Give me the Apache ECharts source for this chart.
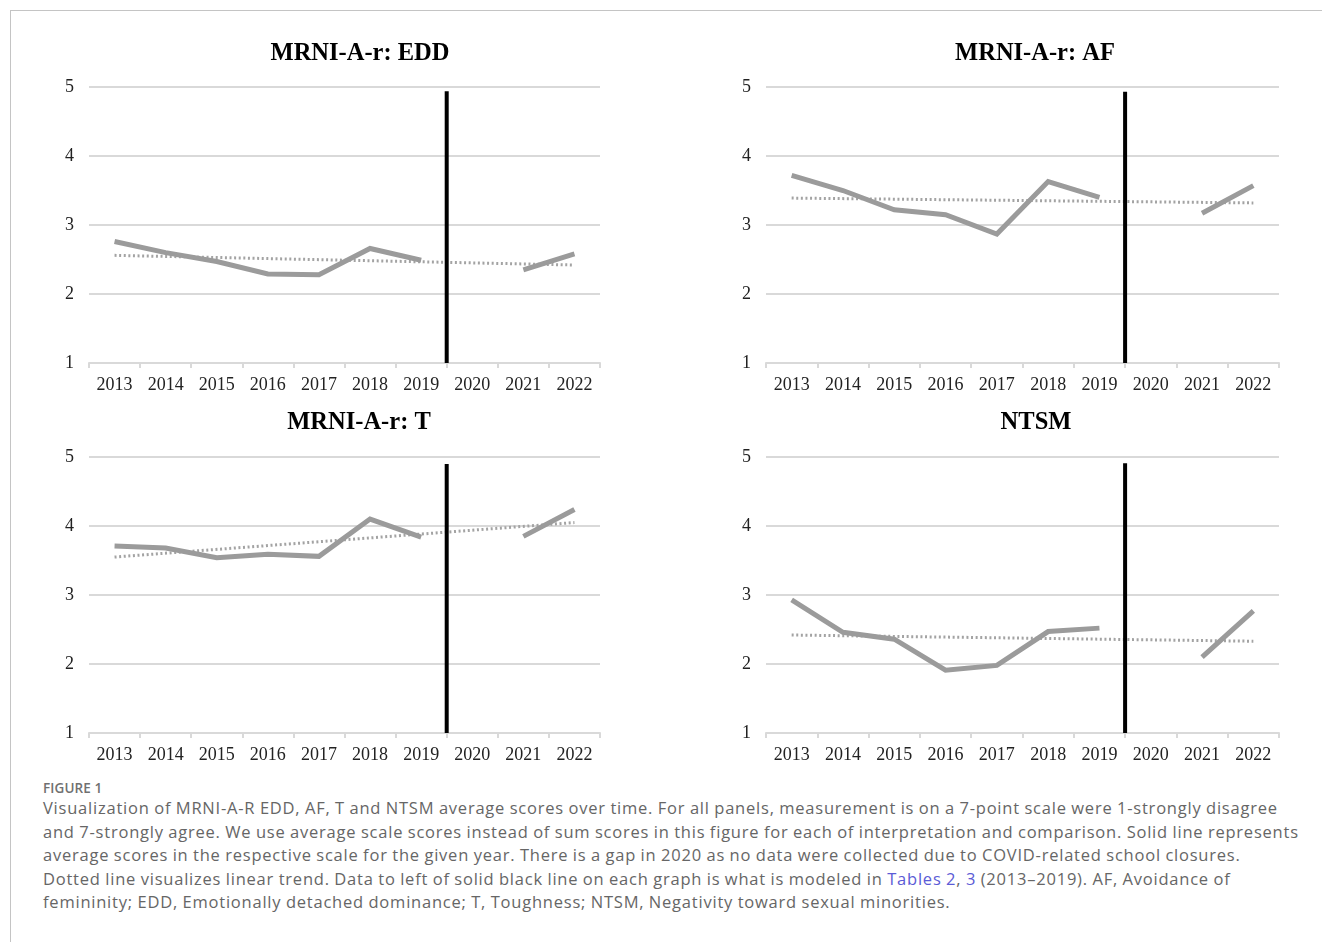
<!DOCTYPE html>
<html>
<head>
<meta charset="utf-8">
<script src="https://cdn.jsdelivr.net/npm/echarts@6/dist/echarts.min.js"></script>
<style>
  html, body { margin: 0; padding: 0; background: #fff; }
  body { width: 1322px; height: 942px; position: relative; overflow: hidden; }
  #frame { position: absolute; left: 10px; top: 10px; width: 1400px; height: 1000px; border: 1px solid #c4c4c4; box-sizing: border-box; }
  #chart { position: absolute; left: 0; top: 0; width: 1322px; height: 775px; }
  #figlabel { position: absolute; left: 43px; top: 779px; font-family: "Open Sans", "Lato", sans-serif; font-size: 13.5px; font-weight: 600; color: #707070; letter-spacing: 0.1px; }
  #caption { position: absolute; left: 43px; top: 796px; width: 1300px; font-family: "Open Sans", "Lato", sans-serif; font-size: 16.5px; line-height: 23.5px; color: #666; letter-spacing: 0.78px; word-spacing: -0.5px; white-space: nowrap; }
  #caption a { color: #5b5bd6; text-decoration: none; }
</style>
</head>
<body>
<div id="frame"></div>
<div id="chart"></div>
<div id="figlabel">FIGURE 1</div>
<div id="caption">Visualization of MRNI-A-R EDD, AF, T and NTSM average scores over time. For all panels, measurement is on a 7-point scale were 1-strongly disagree<br>and 7-strongly agree. We use average scale scores instead of sum scores in this figure for each of interpretation and comparison. Solid line represents<br>average scores in the respective scale for the given year. There is a gap in 2020 as no data were collected due to COVID-related school closures.<br>Dotted line visualizes linear trend. Data to left of solid black line on each graph is what is modeled in <a>Tables 2</a>, <a>3</a> (2013–2019). AF, Avoidance of<br>femininity; EDD, Emotionally detached dominance; T, Toughness; NTSM, Negativity toward sexual minorities.</div>
<script>
// ---- data ----
const years = ['2013','2014','2015','2016','2017','2018','2019','2020','2021','2022'];
const yTicks = [1, 2, 3, 4, 5];
const panelTitles = ['MRNI-A-r: EDD', 'MRNI-A-r: AF', 'MRNI-A-r: T', 'NTSM'];
const eddScores  = [2.76, 2.60, 2.47, 2.29, 2.28, 2.66, 2.49, null, 2.35, 2.58];
const afScores   = [3.72, 3.50, 3.22, 3.15, 2.87, 3.63, 3.40, null, 3.17, 3.57];
const tScores    = [3.71, 3.68, 3.54, 3.59, 3.56, 4.10, 3.84, null, 3.85, 4.24];
const ntsmScores = [2.93, 2.46, 2.36, 1.91, 1.98, 2.47, 2.52, null, 2.10, 2.77];
// linear trend endpoints (2013, 2022)
const eddTrend  = [2.56, 2.42];
const afTrend   = [3.39, 3.32];
const tTrend    = [3.55, 4.05];
const ntsmTrend = [2.42, 2.33];
// position of the black divider, in category units (between 2019 and 2020) and its top value
const dividerAt = 6.5;
const dividerTop = [4.94, 4.93, 4.90, 4.91];

const scores = [eddScores, afScores, tScores, ntsmScores];
const trends = [eddTrend, afTrend, tTrend, ntsmTrend];

// ---- layout ----
const grids = [
  { left: 89,  top: 87,  width: 511, height: 276 },
  { left: 766, top: 87,  width: 513, height: 276 },
  { left: 89,  top: 457, width: 511, height: 276 },
  { left: 766, top: 457, width: 513, height: 276 }
];
const titlePos = [
  { left: 355, top: 36 },
  { left: 1030, top: 36 },
  { left: 354, top: 405 },
  { left: 1031, top: 405 }
];

const serif = 'Liberation Serif';
const gridColor = '#d9d9d9';

const option = {
  animation: false,
  backgroundColor: 'transparent',
  title: panelTitles.map((t, i) => ({
    text: t, left: titlePos[i].left, top: titlePos[i].top, textAlign: 'center',
    textStyle: { fontFamily: serif, fontWeight: 'bold', fontSize: 24.5, color: '#000' }
  })),
  grid: grids.map(g => Object.assign({ containLabel: false }, g)),
  xAxis: [
    ...grids.map((g, i) => ({
      type: 'category', gridIndex: i, data: years, boundaryGap: true,
      axisLine: { show: true, lineStyle: { color: gridColor, width: 2 } },
      axisTick: { show: true, length: 5, lineStyle: { color: gridColor, width: 2 } },
      axisLabel: { fontFamily: serif, fontSize: 18, color: '#222', margin: 13, interval: 0 },
      splitLine: { show: false }
    })),
    ...grids.map((g, i) => ({
      type: 'value', gridIndex: i, min: -0.5, max: 9.5, show: false
    }))
  ],
  yAxis: grids.map((g, i) => ({
    type: 'value', gridIndex: i, min: yTicks[0], max: yTicks[yTicks.length - 1], interval: 1,
    axisLine: { show: false }, axisTick: { show: false },
    axisLabel: { fontFamily: serif, fontSize: 18, color: '#222', margin: 15 },
    splitLine: { show: true, lineStyle: { color: gridColor, width: 2 } }
  })),
  series: []
};

for (let i = 0; i < 4; i++) {
  const trendData = years.map((y, k) => k === 0 ? trends[i][0] : (k === years.length - 1 ? trends[i][1] : null));
  option.series.push({
    type: 'line', xAxisIndex: i, yAxisIndex: i, data: trendData, connectNulls: true,
    showSymbol: false, symbol: 'none', silent: true, z: 2,
    lineStyle: { color: '#a3a3a3', width: 3, type: [2, 2.6], cap: 'butt' }
  });
  option.series.push({
    type: 'line', xAxisIndex: i, yAxisIndex: i, data: scores[i], connectNulls: false,
    showSymbol: false, symbol: 'none', silent: true, z: 3,
    lineStyle: { color: '#9b9b9b', width: 5, cap: 'butt', join: 'miter' }
  });
  option.series.push({
    type: 'line', xAxisIndex: 4 + i, yAxisIndex: i,
    data: [[dividerAt, yTicks[0]], [dividerAt, dividerTop[i]]],
    showSymbol: false, symbol: 'none', silent: true, z: 4,
    lineStyle: { color: '#000', width: 4 }
  });
}

const chart = echarts.init(document.getElementById('chart'), null, { renderer: 'canvas' });
chart.setOption(option);
</script>
</body>
</html>
